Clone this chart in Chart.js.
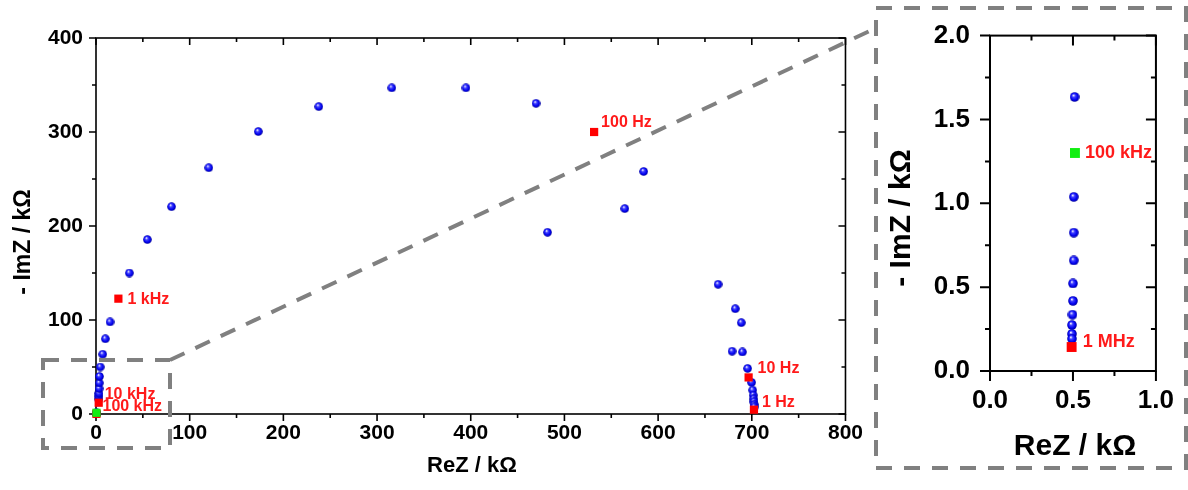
<!DOCTYPE html>
<html>
<head>
<meta charset="utf-8">
<script src="https://cdn.jsdelivr.net/npm/chart.js@4/dist/chart.umd.min.js"></script>
<style>
  body { margin: 0; background: #fff; }
  #wrap { position: relative; width: 1188px; height: 490px; }
  canvas, svg { position: absolute; top: 0; }
  #main { left: 0; }
  #inset { left: 880px; }
  svg { left: 0; pointer-events: none; }
</style>
</head>
<body>
<div id="wrap">
  <canvas id="main" width="870" height="490"></canvas>
  <canvas id="inset" width="308" height="490"></canvas>
  <svg width="1188" height="490">
    <g fill="none" stroke="#808080" stroke-width="4" stroke-dasharray="16 12">
      <rect x="43" y="360" width="127" height="88"/>
      <line x1="170" y1="360" x2="876" y2="28"/>
      <rect x="876" y="8" width="310" height="460"/>
    </g>
  </svg>
</div>
<script>
// Nyquist data, kΩ
const arcRe = [3.0, 3.0, 3.2, 3.3, 3.5, 3.7, 4.5, 7.2, 10, 15, 35.6, 54.8, 80.6, 120.4, 173.2, 237.8,
  315.7, 394.9, 469.7, 584.6, 482, 564.4, 664, 682.4, 688.8, 679, 690, 695.5, 699.8, 700.9, 701.6,
  702, 702.3, 702.5, 702.6];
const arcIm = [16, 19, 22, 27, 33, 40, 50, 63.6, 80, 98, 150, 185.6, 220.6, 262, 300.5, 327,
  347, 347, 330.5, 258, 193.3, 218.5, 138, 112, 97.2, 66.8, 66, 48.5, 33.6, 25.4, 20,
  16, 13, 10, 7.5];

// high frequency end (shown in the inset)
const hfRe = [0.51, 0.505, 0.505, 0.505, 0.5, 0.5, 0.497, 0.494, 0.494, 0.494];
const hfIm = [1.634, 1.038, 0.825, 0.659, 0.522, 0.418, 0.336, 0.274, 0.221, 0.192];

// marked frequencies
const redFreq = ['1 MHz', '10 kHz', '1 kHz', '100 Hz', '10 Hz', '1 Hz'];
const redRe = [0.492, 2.9, 23.9, 531.7, 696.6, 702.3];
const redIm = [0.143, 12, 122.7, 300, 38.9, 4.6];
const greenFreq = ['100 kHz'];
const greenRe = [0.512];
const greenIm = [1.30];

const mainXTicks = [0, 800, 100];
const mainYTicks = [0, 400, 100];
const insetXTicks = [0, 1, 0.5];
const insetYTicks = [0, 2, 0.5];

const FONT = "'Liberation Sans', Arial, sans-serif";

function pts(xs, ys) {
  return xs.map((x, i) => ({ x: x, y: ys[i] }));
}

function sphere(d) {
  const c = document.createElement('canvas');
  c.width = c.height = d;
  const g = c.getContext('2d');
  const r = d / 2;
  const grad = g.createRadialGradient(r * 0.75, r * 0.65, 0.2, r, r, r);
  grad.addColorStop(0, '#ffffff');
  grad.addColorStop(0.3, '#4040ff');
  grad.addColorStop(0.7, '#0000f0');
  grad.addColorStop(1, '#000090');
  g.fillStyle = grad;
  g.beginPath();
  g.arc(r, r, r - 0.2, 0, Math.PI * 2);
  g.fill();
  return c;
}

// frame, inward/outward ticks, point labels and axis titles
const decor = {
  id: 'decor',
  beforeDatasetsDraw(chart, args, o) {
    const { ctx, chartArea: a, scales: { x, y } } = chart;
    ctx.save();
    ctx.strokeStyle = '#000';
    ctx.lineWidth = o.lineWidth;
    ctx.strokeRect(a.left, a.top, a.right - a.left, a.bottom - a.top);
    ctx.beginPath();
    const isMajor = (v, m) => Math.abs(v / m - Math.round(v / m)) < 1e-6;
    for (let v = x.min; v <= x.max + 1e-9; v += o.minor.x) {
      const px = x.getPixelForValue(v);
      const len = isMajor(v, o.major.x) ? o.majorLen : o.minorLen;
      ctx.moveTo(px, a.bottom); ctx.lineTo(px, a.bottom + len);
      ctx.moveTo(px, a.top); ctx.lineTo(px, a.top + len);
    }
    for (let v = y.min; v <= y.max + 1e-9; v += o.minor.y) {
      const py = y.getPixelForValue(v);
      const len = isMajor(v, o.major.y) ? o.majorLen : o.minorLen;
      ctx.moveTo(a.left - len, py); ctx.lineTo(a.left, py);
      ctx.moveTo(a.right - len, py); ctx.lineTo(a.right, py);
    }
    ctx.stroke();
    ctx.restore();
  },
  afterDatasetsDraw(chart, args, o) {
    const { ctx } = chart;
    ctx.save();
    ctx.fillStyle = '#ff1a1a';
    ctx.font = 'bold ' + o.labelSize + 'px ' + FONT;
    ctx.textAlign = 'left';
    ctx.textBaseline = 'middle';
    chart.data.datasets.forEach((ds, di) => {
      if (!ds.freq) return;
      const meta = chart.getDatasetMeta(di);
      ds.freq.forEach((f, i) => {
        const off = o.offsets[f];
        if (!off) return;
        const el = meta.data[i];
        ctx.fillText(f, el.x + off[0], el.y + off[1]);
      });
    });
    ctx.fillStyle = '#000';
    ctx.textAlign = 'center';
    o.titles.forEach(t => {
      ctx.save();
      ctx.font = 'bold ' + t.size + 'px ' + FONT;
      ctx.translate(t.x, t.y);
      ctx.rotate(t.rot || 0);
      ctx.fillText(t.text, 0, 0);
      ctx.restore();
    });
    ctx.restore();
  }
};

function makeChart(id, cfg) {
  const sph = sphere(cfg.sphere);
  return new Chart(document.getElementById(id), {
    type: 'scatter',
    data: {
      datasets: [
        { data: cfg.blue, pointStyle: sph, pointRadius: cfg.sphere / 2, order: 2, clip: false },
        { data: pts(redRe, redIm), freq: redFreq, pointStyle: 'rect', pointRadius: cfg.rect,
          backgroundColor: '#ff0000', borderWidth: 0, order: 1, clip: false },
        { data: pts(greenRe, greenIm), freq: greenFreq, pointStyle: 'rect', pointRadius: cfg.rect,
          backgroundColor: '#11ee11', borderWidth: 0, order: 0, clip: false }
      ]
    },
    options: {
      responsive: false,
      animation: false,
      layout: { padding: cfg.padding },
      plugins: {
        legend: { display: false },
        tooltip: { enabled: false },
        decor: cfg.decor
      },
      scales: {
        x: {
          type: 'linear', min: cfg.xTicks[0], max: cfg.xTicks[1],
          grid: { display: false, drawTicks: false },
          border: { display: false },
          afterFit: s => { s.height = cfg.xHeight; },
          ticks: {
            stepSize: cfg.xTicks[2], padding: cfg.xPad, color: '#000',
            font: { family: FONT, size: cfg.tickSize, weight: 'bold' },
            callback: cfg.fmt
          }
        },
        y: {
          type: 'linear', min: cfg.yTicks[0], max: cfg.yTicks[1],
          grid: { display: false, drawTicks: false },
          border: { display: false },
          afterFit: s => { s.width = cfg.yWidth; },
          ticks: {
            stepSize: cfg.yTicks[2], padding: cfg.yPad, color: '#000',
            font: { family: FONT, size: cfg.tickSize, weight: 'bold' },
            callback: cfg.fmt
          }
        }
      }
    },
    plugins: [decor]
  });
}

makeChart('main', {
  blue: pts(arcRe.concat(hfRe), arcIm.concat(hfIm)),
  sphere: 9, rect: 5.8,
  padding: { top: 38, right: 22, left: 0, bottom: 0 },
  xTicks: mainXTicks, yTicks: mainYTicks,
  xHeight: 76, yWidth: 96, xPad: 7, yPad: 13, tickSize: 21,
  fmt: v => String(v),
  decor: {
    lineWidth: 1.6, major: { x: 100, y: 100 }, minor: { x: 50, y: 50 }, majorLen: 7, minorLen: 4,
    labelSize: 16,
    offsets: { '10 kHz': [6, -8], '100 kHz': [6, -6], '1 kHz': [9, 1], '100 Hz': [7, -9],
      '10 Hz': [9, -9], '1 Hz': [8, -7] },
    titles: [
      { text: 'ReZ / kΩ', size: 22, x: 472, y: 466 },
      { text: '- ImZ / kΩ', size: 23, x: 24, y: 242, rot: -Math.PI / 2 }
    ]
  }
});

makeChart('inset', {
  blue: pts(hfRe, hfIm),
  sphere: 10, rect: 7,
  padding: { top: 30, right: 28, left: 0, bottom: 0 },
  xTicks: insetXTicks, yTicks: insetYTicks,
  xHeight: 119, yWidth: 110, xPad: 14, yPad: 20, tickSize: 26,
  fmt: v => v.toFixed(1),
  decor: {
    lineWidth: 2, major: { x: 0.5, y: 0.5 }, minor: { x: 0.25, y: 0.25 }, majorLen: 10, minorLen: 5,
    labelSize: 18,
    offsets: { '100 kHz': [10, 0], '1 MHz': [11, -5] },
    titles: [
      { text: 'ReZ / kΩ', size: 30, x: 195, y: 447 },
      { text: '- ImZ / kΩ', size: 30, x: 22, y: 218, rot: -Math.PI / 2 }
    ]
  }
});
</script>
</body>
</html>
